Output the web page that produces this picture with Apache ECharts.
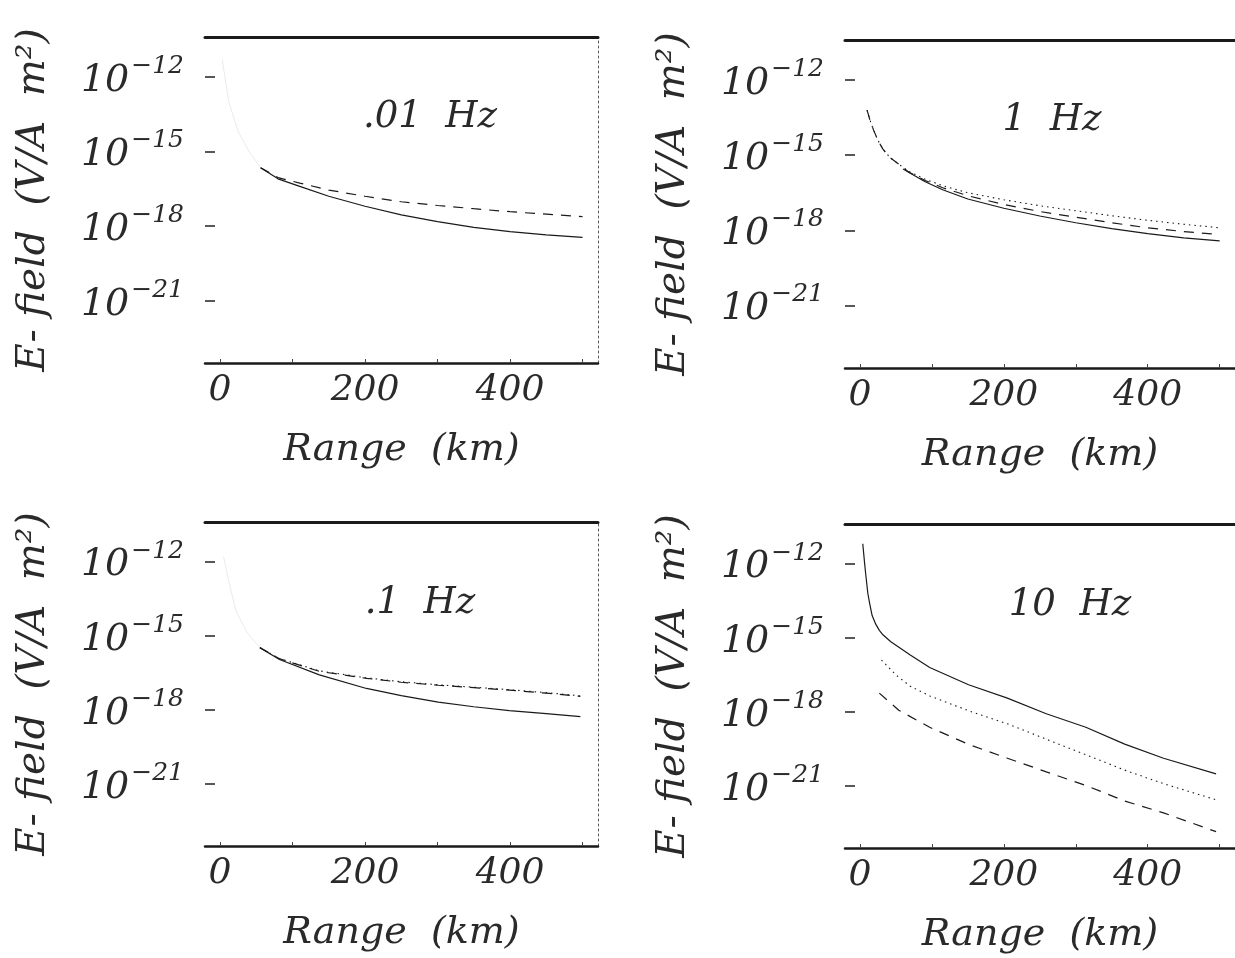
<!DOCTYPE html>
<html><head><meta charset="utf-8">
<script src="https://cdn.jsdelivr.net/npm/echarts@6/dist/echarts.min.js"></script>
<style>html,body{margin:0;padding:0;background:#fff}#c{width:1235px;height:958px}</style>
</head><body><div id="c"></div>
<script>
// ---------- text ----------
const panelTitles = ['.01  Hz', '1  Hz', '.1  Hz', '10  Hz'];
const xTickLabels = [0, 200, 400];
const xMinorTicks = [0, 100, 200, 300, 400, 500];
const yTickExponents = [-12, -15, -18, -21];
const xAxisName = 'Range  (km)';
const yAxisName = 'E- field  (V/A  m²)';

// ---------- data: range (km) and log10 of E-field (V/A m^2) ----------
// .01 Hz
const p1FaintKm  = [3, 12, 25, 40, 56];
const p1FaintLog = [-11.3, -13.0, -14.2, -15.0, -15.65];
const p1SolidKm  = [56, 80, 110, 150, 200, 250, 300, 350, 400, 450, 500];
const p1SolidLog = [-15.65, -16.1, -16.4, -16.8, -17.2, -17.55, -17.82, -18.05, -18.22, -18.35, -18.45];
const p1DashKm   = [56, 80, 110, 150, 200, 250, 300, 350, 400, 450, 500];
const p1DashLog  = [-15.65, -16.05, -16.27, -16.55, -16.8, -17.02, -17.17, -17.3, -17.42, -17.52, -17.62];

// 1 Hz
const p2SolidKm  = [60, 90, 115, 150, 200, 250, 300, 350, 400, 450, 500];
const p2SolidLog = [-15.55, -16.05, -16.38, -16.75, -17.12, -17.43, -17.7, -17.93, -18.13, -18.3, -18.42];
const p2DashKm   = [10, 14, 19, 25, 32, 42, 54, 68, 90, 115, 150, 200, 250, 300, 350, 400, 450, 500];
const p2DashLog  = [-13.2, -13.6, -14.0, -14.4, -14.76, -15.1, -15.36, -15.68, -16.0, -16.3, -16.62, -16.97, -17.25, -17.48, -17.7, -17.9, -18.05, -18.17];
const p2DotKm    = [10, 14, 19, 25, 32, 42, 54, 68, 90, 115, 150, 200, 250, 300, 350, 400, 450, 500];
const p2DotLog   = [-13.2, -13.6, -14.0, -14.4, -14.76, -15.1, -15.36, -15.65, -15.95, -16.22, -16.5, -16.78, -17.02, -17.22, -17.42, -17.6, -17.76, -17.9];

// .1 Hz
const p3FaintKm  = [5, 12, 22, 38, 55];
const p3FaintLog = [-11.8, -12.8, -14.0, -14.9, -15.48];
const p3SolidKm  = [55, 82, 137, 202, 250, 301, 350, 399, 450, 497];
const p3SolidLog = [-15.48, -15.96, -16.58, -17.13, -17.42, -17.68, -17.87, -18.03, -18.15, -18.27];
const p3DashKm   = [55, 82, 137, 202, 250, 301, 350, 399, 450, 497];
const p3DashLog  = [-15.48, -15.93, -16.44, -16.72, -16.88, -17.0, -17.1, -17.2, -17.32, -17.45];
const p3DotKm    = [55, 82, 137, 202, 250, 301, 350, 399, 450, 497];
const p3DotLog   = [-15.48, -15.92, -16.42, -16.7, -16.86, -16.98, -17.08, -17.18, -17.3, -17.43];

// 10 Hz
const p4SolidKm  = [4, 6.5, 8, 11, 13.5, 17, 22, 27, 32, 43, 70, 97, 151, 205, 259, 314, 368, 422, 495];
const p4SolidLog = [-11.2, -11.97, -12.4, -13.2, -13.6, -14.1, -14.45, -14.7, -14.88, -15.16, -15.7, -16.2, -16.9, -17.44, -18.07, -18.62, -19.3, -19.87, -20.5];
const p4DotKm    = [30, 50, 70, 97, 124, 151, 205, 259, 314, 368, 422, 495];
const p4DotLog   = [-15.9, -16.5, -16.96, -17.35, -17.65, -17.95, -18.48, -19.1, -19.73, -20.35, -20.9, -21.55];
const p4DashKm   = [27, 54, 97, 151, 205, 259, 314, 368, 422, 495];
const p4DashLog  = [-17.24, -17.93, -18.62, -19.31, -19.87, -20.42, -20.97, -21.6, -22.08, -22.84];

// ---------- layout / styles ----------
const FONT = '"DejaVu Serif"';
const INK = '#1a1a1a';
const TXT = '#2a2a2a';
const X_MIN = -20.7, X_MAX = 521.3;
const Y_MIN = -23.5, Y_MAX = -10.4;

const grids = [
  {left: 205, top: 37,  width: 393, height: 326},
  {left: 845, top: 40,  width: 393, height: 328},
  {left: 205, top: 522, width: 393, height: 324},
  {left: 845, top: 524, width: 393, height: 324}
];
const titlePos = [[430, 117], [1052, 120], [420, 603], [1070, 605]];

const styles = {
  faint: {color: '#ebebeb', width: 1, type: 'solid'},
  solid: {color: INK, width: 1.2, type: 'solid'},
  dash:  {color: INK, width: 1.2, type: [10, 8]},
  dot:   {color: INK, width: 1.1, type: [1.5, 4]}
};

const panels = [
  [['faint', p1FaintKm, p1FaintLog], ['solid', p1SolidKm, p1SolidLog], ['dash', p1DashKm, p1DashLog]],
  [['solid', p2SolidKm, p2SolidLog], ['dash', p2DashKm, p2DashLog], ['dot', p2DotKm, p2DotLog]],
  [['faint', p3FaintKm, p3FaintLog], ['solid', p3SolidKm, p3SolidLog], ['dash', p3DashKm, p3DashLog], ['dot', p3DotKm, p3DotLog]],
  [['solid', p4SolidKm, p4SolidLog], ['dot', p4DotKm, p4DotLog], ['dash', p4DashKm, p4DashLog]]
];

const xAxes = [], yAxes = [], series = [], graphics = [];
grids.forEach((g, i) => {
  xAxes.push({
    gridIndex: i, type: 'value', min: X_MIN, max: X_MAX, position: 'bottom',
    axisLine: {show: true, onZero: false, lineStyle: {color: INK, width: 2.5}},
    axisTick: {show: true, inside: true, length: 4, customValues: xMinorTicks, lineStyle: {color: '#444', width: 1}},
    axisLabel: {customValues: xTickLabels, fontFamily: FONT, fontStyle: 'italic', fontSize: 36, color: TXT, margin: 10},
    splitLine: {show: false},
    name: xAxisName, nameLocation: 'middle', nameGap: 68,
    nameTextStyle: {fontFamily: FONT, fontStyle: 'italic', fontSize: 38, color: TXT}
  });
  xAxes.push({
    gridIndex: i, type: 'value', min: X_MIN, max: X_MAX, position: 'top',
    axisLine: {show: true, onZero: false, lineStyle: {color: INK, width: 3}},
    axisTick: {show: false}, axisLabel: {show: false}, splitLine: {show: false}
  });
  yAxes.push({
    gridIndex: i, type: 'value', min: Y_MIN, max: Y_MAX, position: 'left',
    axisLine: {show: false, onZero: false},
    axisTick: {show: true, inside: true, length: 10, customValues: yTickExponents, lineStyle: {color: '#222', width: 1.5}},
    axisLabel: {
      customValues: yTickExponents, margin: 21,
      formatter: v => '{b|10}{s|\u2212' + Math.abs(v) + '}',
      rich: {
        b: {fontFamily: FONT, fontStyle: 'italic', fontSize: 38, color: TXT, lineHeight: 46, verticalAlign: 'bottom'},
        s: {fontFamily: FONT, fontStyle: 'italic', fontSize: 25, color: TXT, lineHeight: 27, verticalAlign: 'top', padding: [0, 0, 0, 2]}
      }
    },
    splitLine: {show: false},
    name: yAxisName, nameLocation: 'middle', nameRotate: 90, nameGap: 152,
    nameTextStyle: {fontFamily: FONT, fontStyle: 'italic', fontSize: 39, color: TXT}
  });
  yAxes.push({
    gridIndex: i, type: 'value', min: Y_MIN, max: Y_MAX, position: 'right',
    axisLine: {show: true, onZero: false, lineStyle: {color: '#555', width: 1, type: [2, 3]}},
    axisTick: {show: false}, axisLabel: {show: false}, splitLine: {show: false}
  });
  panels[i].forEach(([st, km, lg]) => {
    series.push({
      type: 'line', xAxisIndex: 2 * i, yAxisIndex: 2 * i,
      data: km.map((k, j) => [k, lg[j]]),
      showSymbol: false, symbol: 'none', smooth: false,
      lineStyle: styles[st], z: st === 'faint' ? 1 : 3
    });
  });
  graphics.push({
    type: 'text', x: titlePos[i][0], y: titlePos[i][1],
    style: {text: panelTitles[i], fontFamily: FONT, fontStyle: 'italic', fontSize: 37, fill: TXT,
            align: 'center', verticalAlign: 'middle'}
  });
});

const chart = echarts.init(document.getElementById('c'), null, {renderer: 'canvas'});
chart.setOption({
  animation: false,
  backgroundColor: '#fff',
  grid: grids.map(g => Object.assign({containLabel: false}, g)),
  xAxis: xAxes,
  yAxis: yAxes,
  series: series,
  graphic: graphics
});
</script>
</body></html>
